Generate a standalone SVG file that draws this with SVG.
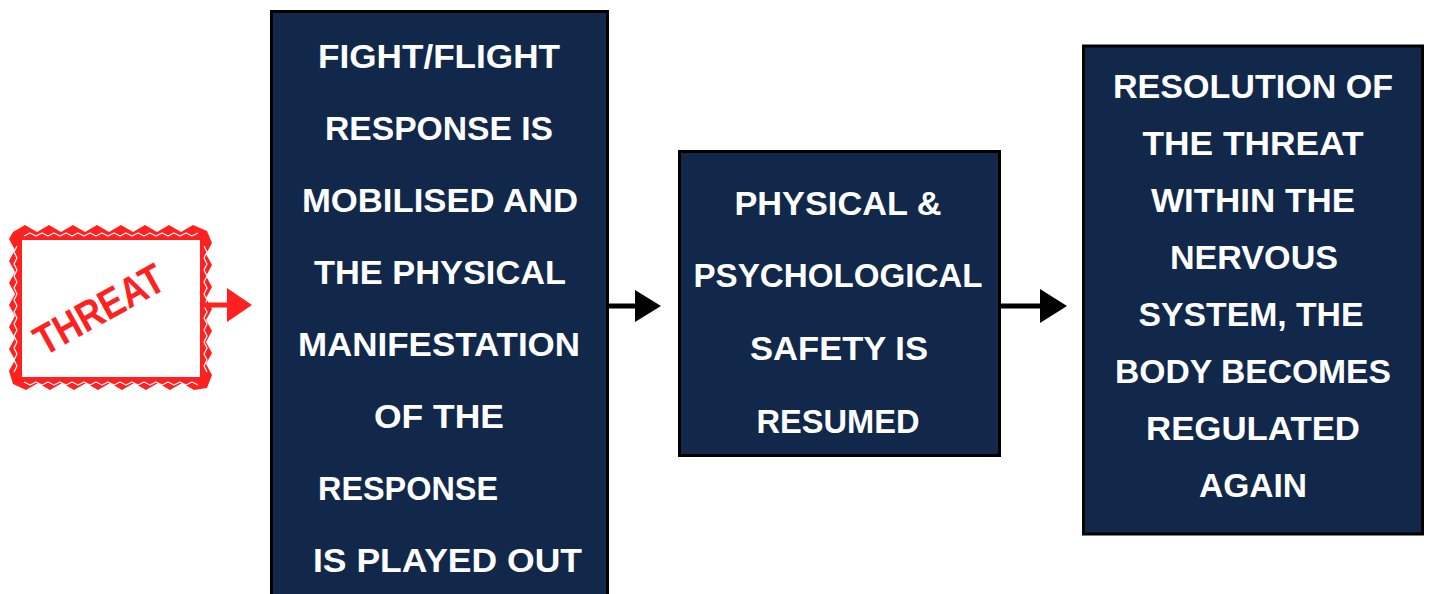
<svg xmlns="http://www.w3.org/2000/svg" width="1430" height="594" viewBox="0 0 1430 594">
<style>
.box{fill:#12284B;stroke:#000;stroke-width:3}
.t{fill:#fff;font-family:"Liberation Sans",Arial,sans-serif;font-weight:bold;font-size:33px;text-anchor:middle}
.tl{fill:#fff;font-family:"Liberation Sans",Arial,sans-serif;font-weight:bold;font-size:33px}
.zig{fill:none;stroke:#fff;stroke-width:1.2;stroke-linejoin:round}
</style>
<rect width="1430" height="594" fill="#fff"/>
<g id="threat">
<polygon fill="#FF2020" points="13,232 25,225 37,232 49,225 61,232 73,225 85,232 97,225 109,232 121,225 133,232 145,225 157,232 169,225 181,232 193,225 207,231 212,243 206,254 212,265 206,276 212,287 206,298 212,309 206,320 212,331 206,342 212,353 206,364 212,375 207,388 194,390 182,383 170,390 158,383 146,390 134,383 122,390 110,383 98,390 86,383 74,390 62,383 50,390 38,383 26,390 13,384 9,371 15,360 9,349 15,338 9,327 15,316 9,305 15,294 9,283 15,272 9,261 15,250 9,239"/>
<polyline class="zig" points="24,236 30,233 36,236 42,233 48,236 54,233 60,236 66,233 72,236 78,233 84,236 90,233 96,236 102,233 108,236 114,233 120,236 126,233 132,236 138,233 144,236 150,233 156,236 162,233 168,236 174,233 180,236 186,233 192,236 198,233"/>
<polyline class="zig" points="24,382 30,385 36,382 42,385 48,382 54,385 60,382 66,385 72,382 78,385 84,382 90,385 96,382 102,385 108,382 114,385 120,382 126,385 132,382 138,385 144,382 150,385 156,382 162,385 168,382 174,385 180,382 186,385 192,382 198,385"/>
<polyline class="zig" points="17,246 14,252 17,258 14,264 17,270 14,276 17,282 14,288 17,294 14,300 17,306 14,312 17,318 14,324 17,330 14,336 17,342 14,348 17,354 14,360 17,366 14,372"/>
<polyline class="zig" points="204,246 207,252 204,258 207,264 204,270 207,276 204,282 207,288 204,294 207,300 204,306 207,312 204,318 207,324 204,330 207,336 204,342 207,348 204,354 207,360 204,366 207,372"/>
<rect x="22" y="240" width="178" height="137" fill="#fff"/>
<text x="0" y="0" transform="translate(106,322) rotate(-29)" fill="#FF2020" font-family="'Liberation Sans',Arial,sans-serif" font-weight="bold" font-size="42" text-anchor="middle" textLength="142" lengthAdjust="spacingAndGlyphs">THREAT</text>
</g>
<g id="connectors">
<line x1="200" y1="305" x2="230" y2="305" stroke="#FF2020" stroke-width="5"/>
<polygon points="227,288 252,305 227,322" fill="#FF2020"/>
<line x1="608" y1="306" x2="638" y2="306" stroke="#000" stroke-width="5"/>
<polygon points="635,290 661,306 635,322" fill="#000"/>
<line x1="1000" y1="306" x2="1042" y2="306" stroke="#000" stroke-width="5"/>
<polygon points="1040,289 1067,306 1040,323" fill="#000"/>
</g>
<g id="fight-flight">
<rect class="box" x="271.5" y="11.5" width="336" height="600"/>
<text class="t" x="439" y="68" textLength="242" lengthAdjust="spacingAndGlyphs">FIGHT/FLIGHT</text>
<text class="t" x="439" y="140" textLength="228" lengthAdjust="spacingAndGlyphs">RESPONSE IS</text>
<text class="t" x="440" y="212" textLength="276" lengthAdjust="spacingAndGlyphs">MOBILISED AND</text>
<text class="t" x="440" y="284" textLength="252" lengthAdjust="spacingAndGlyphs">THE PHYSICAL</text>
<text class="t" x="439" y="356" textLength="282" lengthAdjust="spacingAndGlyphs">MANIFESTATION</text>
<text class="t" x="439" y="428" textLength="130" lengthAdjust="spacingAndGlyphs">OF THE</text>
<text class="tl" x="318" y="500" textLength="180" lengthAdjust="spacingAndGlyphs">RESPONSE</text>
<text class="tl" x="313" y="572" textLength="269" lengthAdjust="spacingAndGlyphs">IS PLAYED OUT</text>
</g>
<g id="safety">
<rect class="box" x="679.5" y="151.5" width="320" height="304"/>
<text class="t" x="838" y="215" textLength="207" lengthAdjust="spacingAndGlyphs">PHYSICAL &amp;</text>
<text class="t" x="838" y="287" textLength="289" lengthAdjust="spacingAndGlyphs">PSYCHOLOGICAL</text>
<text class="t" x="839" y="360" textLength="178" lengthAdjust="spacingAndGlyphs">SAFETY IS</text>
<text class="t" x="838" y="433" textLength="163" lengthAdjust="spacingAndGlyphs">RESUMED</text>
</g>
<g id="resolution">
<rect class="box" x="1083.5" y="46" width="339" height="488"/>
<text class="t" x="1253" y="98" textLength="280" lengthAdjust="spacingAndGlyphs">RESOLUTION OF</text>
<text class="t" x="1253" y="155" textLength="221" lengthAdjust="spacingAndGlyphs">THE THREAT</text>
<text class="t" x="1253" y="212" textLength="204" lengthAdjust="spacingAndGlyphs">WITHIN THE</text>
<text class="t" x="1254" y="269" textLength="168" lengthAdjust="spacingAndGlyphs">NERVOUS</text>
<text class="t" x="1251" y="326" textLength="225" lengthAdjust="spacingAndGlyphs">SYSTEM, THE</text>
<text class="t" x="1253" y="383" textLength="276" lengthAdjust="spacingAndGlyphs">BODY BECOMES</text>
<text class="t" x="1253" y="440" textLength="214" lengthAdjust="spacingAndGlyphs">REGULATED</text>
<text class="t" x="1253" y="497" textLength="108" lengthAdjust="spacingAndGlyphs">AGAIN</text>
</g>
</svg>
